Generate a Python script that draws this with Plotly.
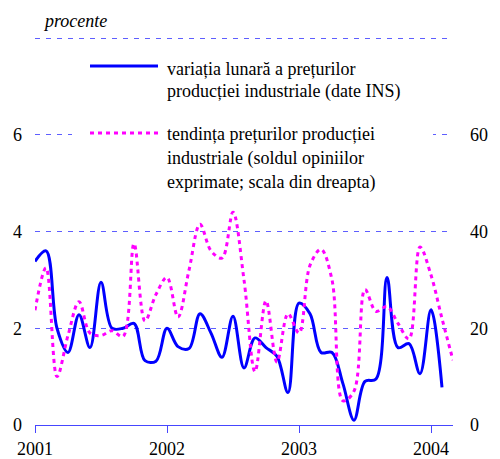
"""
Monthly industrial producer price change vs. business-survey price expectations.
"""
import plotly.graph_objects as go

# month index, 0 = Jan 2001
months_blue = list(range(38))
monthly_change = [3.38, 3.6, 2.0, 1.5, 2.28, 1.6, 2.95, 2.0, 2.0, 2.1,
                  1.33, 1.32, 2.0, 1.62, 1.58, 2.3, 1.9, 1.4, 2.25, 1.18,
                  1.8, 1.6, 1.42, 0.67, 2.52, 2.3, 1.5, 1.5, 0.85, 0.1,
                  0.9, 0.95, 3.05, 1.6, 1.68, 1.06, 2.38, 0.78]

months_pink = list(range(39))
price_trend = [23.7, 32.5, 10.0, 18.5, 25.5, 19.0, 18.5, 19.5, 18.3, 37.5,
               21.5, 27.0, 30.5, 22.3, 32.0, 41.5, 36.0, 34.5, 44.0, 30.0,
               11.0, 25.7, 13.0, 23.0, 19.0, 33.0, 36.3, 30.0, 5.0, 7.0,
               28.0, 23.5, 24.5, 21.0, 17.8, 36.8, 31.0, 22.0, 13.4]

year_ticks = [0, 12, 24, 36]
year_labels = ["2001", "2002", "2003", "2004"]

legend_lines_1 = ["variația lunară a prețurilor", "producției industriale (date INS)"]
legend_lines_2 = ["tendința prețurilor producției", "industriale (soldul opiniilor",
                  "exprimate; scala din dreapta)"]

SERIF = "'Liberation Serif', 'Times New Roman', serif"
FS = 18
GRID = "#5e5eff"

# the page puts the figure 8px in from the window corner
OFF = 8
W, H = 500 - OFF, 459 - OFF
# plot area in window pixels: x 35..453, y 35..425
L, R, T, B = 35, 453, 35, 425


def px_x(p):
    return (p - L) / (R - L)


def px_y(p):
    return (B - p) / (B - T)


fig = go.Figure()

fig.add_trace(go.Scatter(
    x=months_blue, y=monthly_change,
    mode="lines", line={"color": "#0000ff", "width": 3, "shape": "spline", "smoothing": 1},
    showlegend=False, hoverinfo="skip",
))
fig.add_trace(go.Scatter(
    x=months_pink, y=price_trend, yaxis="y2",
    mode="lines", line={"color": "#ff00ff", "width": 3, "shape": "spline",
                        "smoothing": 1, "dash": "4px,4px"},
    showlegend=False, hoverinfo="skip",
))

# hand-made legend box over the gridline at 6
fig.add_shape(type="rect", xref="paper", yref="paper",
              x0=px_x(72), x1=px_x(433), y0=px_y(196), y1=px_y(48),
              fillcolor="white", line={"width": 0}, layer="above")
fig.add_shape(type="line", xref="paper", yref="paper",
              x0=px_x(90), x1=px_x(158), y0=px_y(66), y1=px_y(66),
              line={"color": "#0000ff", "width": 3}, layer="above")
fig.add_shape(type="line", xref="paper", yref="paper",
              x0=px_x(90), x1=px_x(158), y0=px_y(133), y1=px_y(133),
              line={"color": "#ff00ff", "width": 3, "dash": "4px,4px"}, layer="above")

for i, t in enumerate(legend_lines_1):
    fig.add_annotation(text=t, xref="paper", yref="paper", x=px_x(165), y=px_y(69 + 22 * i),
                       xanchor="left", yanchor="middle", showarrow=False,
                       font={"family": SERIF, "size": FS, "color": "black"})
for i, t in enumerate(legend_lines_2):
    fig.add_annotation(text=t, xref="paper", yref="paper", x=px_x(165), y=px_y(134 + 24 * i),
                       xanchor="left", yanchor="middle", showarrow=False,
                       font={"family": SERIF, "size": FS, "color": "black"})

fig.add_annotation(text="<i>procente</i>", xref="paper", yref="paper",
                   x=px_x(41), y=px_y(21), xanchor="left", yanchor="middle",
                   showarrow=False, font={"family": SERIF, "size": FS, "color": "black"})

fig.update_layout(
    width=W, height=H,
    margin={"l": L - OFF, "r": 500 - R, "t": T - OFF, "b": 459 - B, "autoexpand": False},
    paper_bgcolor="white", plot_bgcolor="white",
    font={"family": SERIF, "size": FS, "color": "black"},
    xaxis={
        "range": [0, 38], "tickvals": year_ticks, "ticktext": year_labels,
        "showgrid": False, "zeroline": False, "automargin": False,
        "showline": True, "linecolor": "#4646ff", "linewidth": 1.2,
        "ticks": "outside", "ticklen": 7, "tickcolor": "#4646ff", "tickwidth": 1.2,
    },
    yaxis={
        "range": [0, 8 + 3 / 48.4], "tickvals": [0, 2, 4, 6, 8],
        "ticktext": ["0", "2", "4", "6", ""],
        "showgrid": True, "gridcolor": GRID, "griddash": "5px,6px", "gridwidth": 1.2,
        "zeroline": False, "showline": False, "ticks": "", "ticklabelstandoff": 12,
        "automargin": False,
    },
    yaxis2={
        "range": [0, 80 + 30 / 48.4], "overlaying": "y", "side": "right",
        "tickvals": [0, 20, 40, 60], "showgrid": False, "zeroline": False,
        "showline": False, "ticks": "", "ticklabelstandoff": 16, "automargin": False,
    },
)

fig.write_html("out.html")
